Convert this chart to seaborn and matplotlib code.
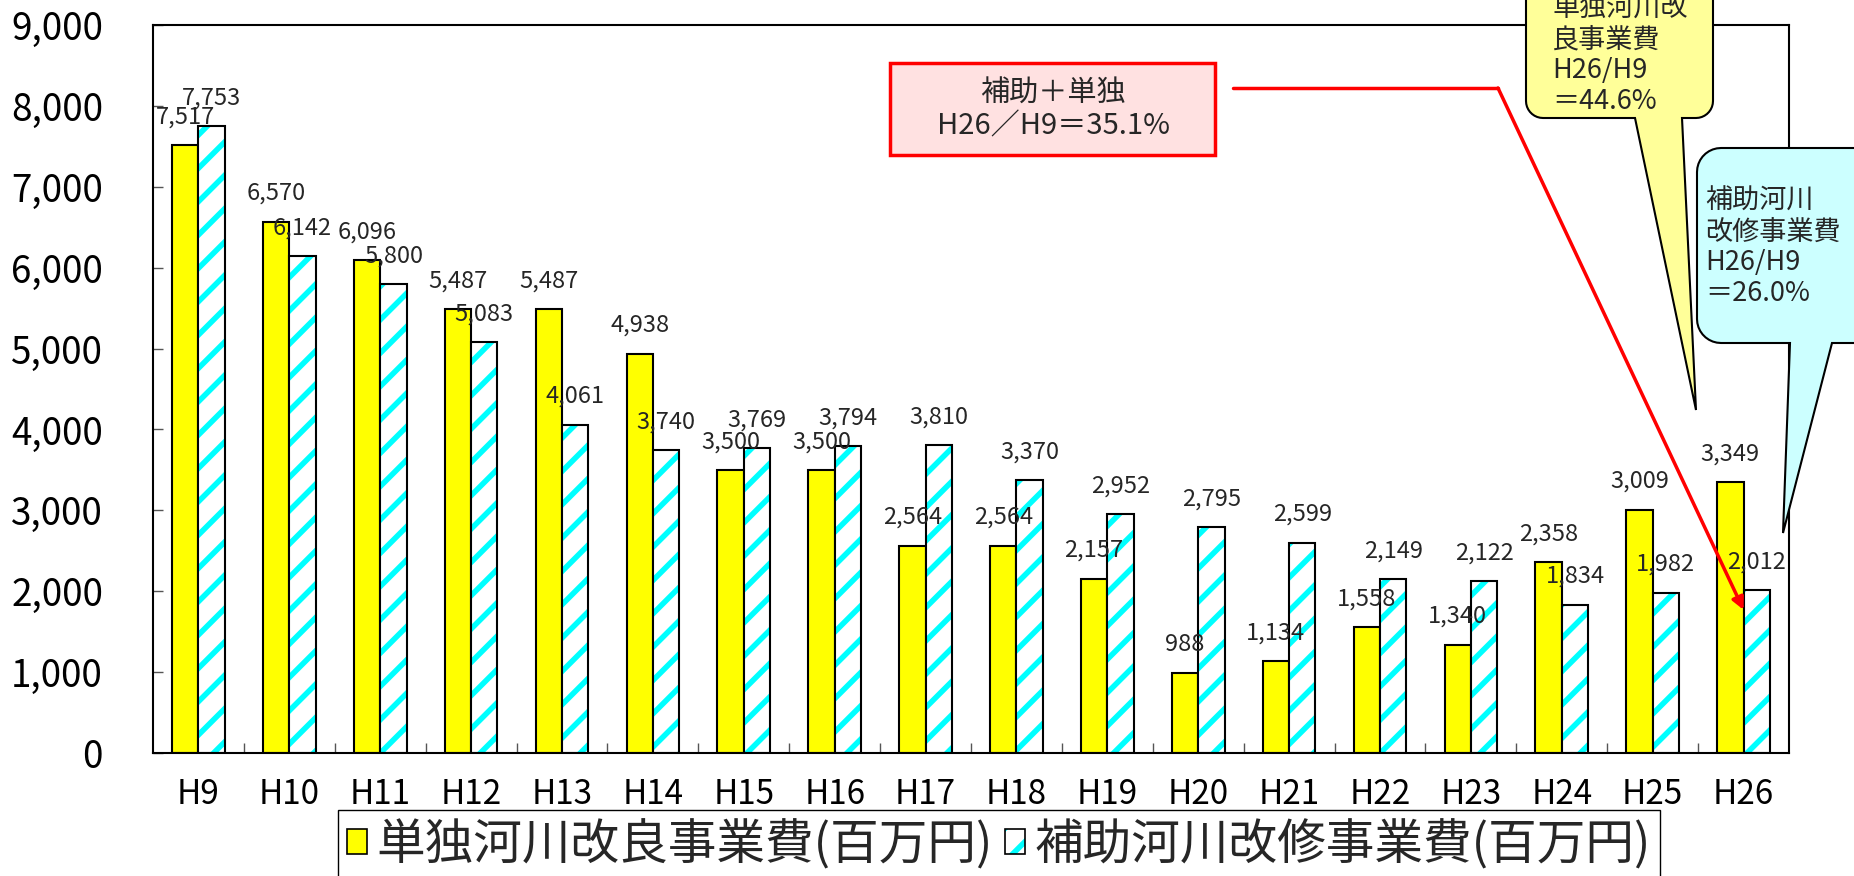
import matplotlib

matplotlib.use("Agg")

import matplotlib.pyplot as plt
import numpy as np
import pandas as pd
import seaborn as sns
from matplotlib.lines import Line2D
from matplotlib.patches import Patch, Polygon, Rectangle
from matplotlib.ticker import FuncFormatter

sns.set_theme(style="ticks")
plt.rcParams["font.family"] = ["Noto Sans CJK JP", "DejaVu Sans"]
plt.rcParams["hatch.linewidth"] = 4

# ── data ──────────────────────────────────────────────────────────────────────
years = ["H9", "H10", "H11", "H12", "H13", "H14", "H15", "H16", "H17",
         "H18", "H19", "H20", "H21", "H22", "H23", "H24", "H25", "H26"]
tandoku = [7517, 6570, 6096, 5487, 5487, 4938, 3500, 3500, 2564,
           2564, 2157, 988, 1134, 1558, 1340, 2358, 3009, 3349]
hojo = [7753, 6142, 5800, 5083, 4061, 3740, 3769, 3794, 3810,
        3370, 2952, 2795, 2599, 2149, 2122, 1834, 1982, 2012]
series = ["単独河川改良事業費(百万円)", "補助河川改修事業費(百万円)"]
y_ticks = list(range(0, 9001, 1000))

df = pd.DataFrame({
    "年度": years * 2,
    "事業費": tandoku + hojo,
    "区分": [series[0]] * len(years) + [series[1]] * len(years),
})

YELLOW = "#FFFF00"
CYAN = "#00FFFF"

W, H = 1854, 876


def px(x, y):
    return (x / W, 1 - y / H)


fig = plt.figure(figsize=(W / 100, H / 100), dpi=100)
ax = fig.add_axes([153 / W, 1 - 753 / H, (1789 - 153) / W, (753 - 25) / H])

sns.barplot(
    df, x="年度", y="事業費", hue="区分",
    palette={series[0]: YELLOW, series[1]: "white"}, saturation=1,
    width=0.58, gap=0, edgecolor="black", linewidth=1.5,
    legend=False, ax=ax,
)

# hatched cyan bars: stripes in cyan, outline redrawn in black on top
for bar in ax.containers[1]:
    bar.set_hatch("/")
    bar.set_edgecolor(CYAN)
    bar.set_linewidth(0)
    ax.add_patch(Rectangle(
        (bar.get_x(), bar.get_y()), bar.get_width(), bar.get_height(),
        fill=False, edgecolor="black", linewidth=1.5, zorder=bar.get_zorder() + 0.1,
    ))

ax.bar_label(ax.containers[0], labels=[f"{v:,}" for v in tandoku],
             padding=12, fontsize=17, zorder=5)
ax.bar_label(ax.containers[1], labels=[f"{v:,}" for v in hojo],
             padding=12, fontsize=17, zorder=5)

ax.set_xlim(-0.5, len(years) - 0.5)
ax.set_ylim(0, 9000)
ax.set_yticks(y_ticks)
ax.yaxis.set_major_formatter(FuncFormatter(lambda v, p: f"{int(v):,}"))
ax.set_xticks(np.arange(0.5, len(years) - 1, 1), minor=True)
ax.tick_params(axis="y", direction="in", length=7, width=1, color="#555555",
               labelsize=26.5, pad=36, labelcolor="black")
ax.tick_params(axis="x", which="major", length=0, labelsize=24, pad=17,
               labelcolor="black")
ax.tick_params(axis="x", which="minor", direction="in", length=7, width=1,
               color="#555555")
ax.set_xlabel("")
ax.set_ylabel("")
for sp in ax.spines.values():
    sp.set_visible(True)
    sp.set_color("black")
    sp.set_linewidth(1.5)

# ── legend ────────────────────────────────────────────────────────────────────
h1 = Patch(facecolor=YELLOW, edgecolor="black", linewidth=1.2)
h2 = (Patch(facecolor="white", edgecolor=CYAN, hatch="/", linewidth=0),
      Patch(fill=False, edgecolor="black", linewidth=1.2))
leg = fig.legend(
    [h1, h2], series, loc="upper center", bbox_to_anchor=(999 / W, 1 - 810 / H),
    ncol=2, fontsize=35, frameon=True, fancybox=False, edgecolor="black",
    framealpha=1, handlelength=0.4, handleheight=0.42, handletextpad=0.2,
    columnspacing=0.25, borderpad=0.2, borderaxespad=0,
)
leg.get_frame().set_linewidth(1)


# ── callouts ──────────────────────────────────────────────────────────────────
def callout(x0, y0, x1, y1, r, base_l, base_r, tip, fc):
    pts = []
    for cx, cy, a0 in [(x0 + r, y0 + r, 180), (x1 - r, y0 + r, 270), (x1 - r, y1 - r, 0)]:
        for t in np.radians(np.linspace(a0, a0 + 90, 10)):
            pts.append((cx + r * np.cos(t), cy + r * np.sin(t)))
    pts += [(base_r, y1), tip, (base_l, y1)]
    for t in np.radians(np.linspace(90, 180, 10)):
        pts.append((x0 + r + r * np.cos(t), y1 - r + r * np.sin(t)))
    poly = Polygon([px(*p) for p in pts], closed=True, transform=fig.transFigure,
                   facecolor=fc, edgecolor="black", linewidth=1.5, zorder=4)
    fig.add_artist(poly)


callout(1526, -60, 1713, 118, 17, 1635, 1682, (1696, 410), "#FFFF99")
callout(1697, 148, 1920, 343, 24, 1790, 1832, (1783, 533), "#CCFFFF")
fig.text(*px(1552, 55.5), "単独河川改\n良事業費\nH26/H9\n＝44.6%", ha="left",
         va="center", fontsize=19.5, linespacing=1.17, zorder=6)
fig.text(*px(1705, 247.5), "補助河川\n改修事業費\nH26/H9\n＝26.0%", ha="left",
         va="center", fontsize=19.5, linespacing=1.17, zorder=6)

# red summary box with connector arrow
fig.add_artist(Rectangle(px(890, 155), 325 / W, 92 / H, transform=fig.transFigure,
                         facecolor="#FFE1E1", edgecolor="red", linewidth=2.5, zorder=4))
fig.text(*px(1053, 110), "補助＋単独\nH26／H9＝35.1%", ha="center", va="center",
         multialignment="center", fontsize=21, linespacing=1.15, zorder=6)
fig.add_artist(Line2D([px(1233, 88)[0], px(1498, 88)[0]], [px(1233, 88)[1]] * 2,
                      transform=fig.transFigure, color="red", linewidth=2.5, zorder=5))
ax.annotate(
    "", xy=(len(years) - 1, 1770), xycoords="data",
    xytext=px(1498, 88), textcoords="figure fraction",
    arrowprops=dict(arrowstyle="-|>", color="red", lw=2.5, shrinkA=0, shrinkB=0,
                    mutation_scale=18),
    annotation_clip=False, zorder=5,
)

fig.savefig("out.png", dpi=100)
plt.close(fig)
